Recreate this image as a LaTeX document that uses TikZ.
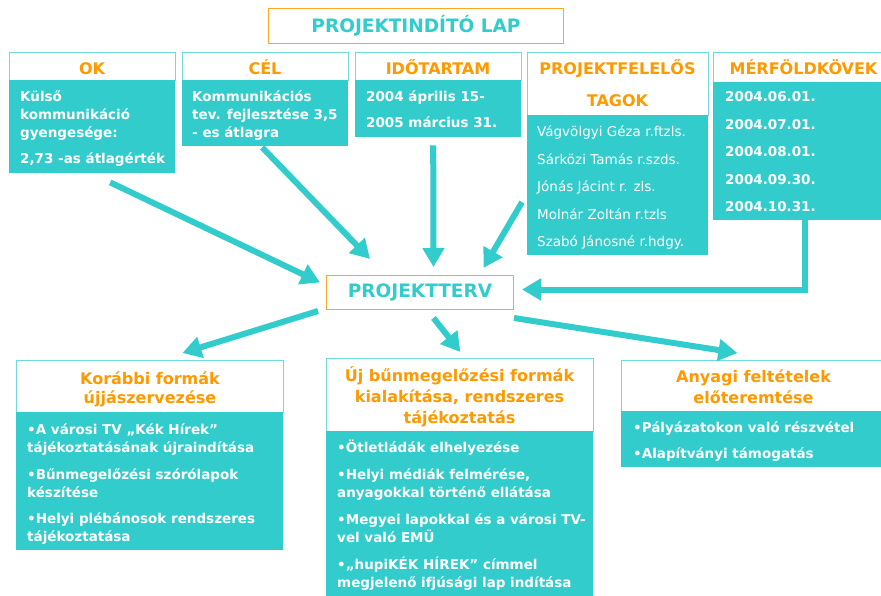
\documentclass[tikz,border=0pt]{standalone}
\usepackage{fontspec}
\setmainfont{DejaVu Sans}
\usetikzlibrary{arrows.meta,positioning}

\definecolor{kekzold}{HTML}{33CCCC}
\definecolor{narancs}{HTML}{FF9900}

% a tobbsoros csomopontok base horgonya az utolso sor alapvonala
\tikzset{
    fej/.style={draw=kekzold!70, line width=0.8pt, fill=white, inner sep=0pt, anchor=north west},
    test/.style={fill=kekzold, inner sep=0pt, anchor=north west},
    fejszoveg/.style={text=narancs, font=\bfseries\fontsize{16}{19}\selectfont, align=center, anchor=base, inner sep=0pt},
    torzs/.style={text=white, font=\bfseries\fontsize{13.5}{18}\selectfont, align=left, anchor=base west, inner sep=0pt},
    nevsor/.style={text=white, font=\fontsize{13.5}{27.5}\selectfont, align=left, anchor=base west, inner sep=0pt},
    keret/.style={draw=narancs!85, line width=1pt, fill=white, inner sep=0pt, text=kekzold, font=\bfseries\fontsize{18.5}{22}\selectfont},
    nyil/.style={draw=kekzold, line width=6pt, -{Triangle[width=21pt,length=19pt]}},
}

\begin{document}
\begin{tikzpicture}[x=1pt,y=-1pt]
    \useasboundingbox (0,0) rectangle (881,596);
    % cim
    \node[keret, minimum width=295, minimum height=35, anchor=north west] (cim) at (268,8) {PROJEKTINDÍTÓ LAP};
    % felso dobozok
    \node[fej, minimum width=166, minimum height=28] (okF) at (9,52) {};
    \node[test, minimum width=166, minimum height=93] (okT) at (9,80) {};
    \node[fejszoveg] (okC) at (92,75) {OK};
    \node[torzs] (okS) at (20,164) {Külső\\kommunikáció\\gyengesége:\\[8pt]2,73 -as átlagérték};

    \node[fej, minimum width=166, minimum height=28] (celF) at (182,52) {};
    \node[test, minimum width=166, minimum height=66] (celT) at (182,80) {};
    \node[fejszoveg] (celC) at (265,75) {CÉL};
    \node[torzs] (celS) at (192,138) {Kommunikációs\\tev. fejlesztése 3,5\\- es átlagra};

    \node[fej, minimum width=166, minimum height=28] (idoF) at (355,52) {};
    \node[test, minimum width=166, minimum height=57] (idoT) at (355,80) {};
    \node[fejszoveg] (idoC) at (438,75) {IDŐTARTAM};
    \node[torzs] (idoS) at (366,128) {2004 április 15-\\[8pt]2005 március 31.};

    \node[fej, minimum width=181, minimum height=63] (tagF) at (527,52) {};
    \node[test, minimum width=181, minimum height=140] (tagT) at (527,115) {};
    \node[fejszoveg, font=\bfseries\fontsize{16}{32}\selectfont] (tagC) at (617.5,107) {PROJEKTFELELŐS\\TAGOK};
    \node[nevsor] (tagS) at (537,247) {Vágvölgyi Géza r.ftzls.\\Sárközi Tamás r.szds.\\Jónás Jácint r. zls.\\Molnár Zoltán r.tzls\\Szabó Jánosné r.hdgy.};

    \node[fej, minimum width=181, minimum height=30] (merfF) at (713,52) {};
    \node[test, minimum width=181, minimum height=138] (merfT) at (713,82) {};
    \node[fejszoveg] (merfC) at (803.5,75) {MÉRFÖLDKÖVEK};
    \node[torzs, font=\bfseries\fontsize{13.5}{27.5}\selectfont] (merfS) at (725,212) {2004.06.01.\\2004.07.01.\\2004.08.01.\\2004.09.30.\\2004.10.31.};

    % projektterv
    \node[keret, minimum width=187, minimum height=34, anchor=north west] (terv) at (326,274.5) {PROJEKTTERV};

    % also dobozok
    \node[fej, minimum width=267, minimum height=52] (elsoF) at (16,360) {};
    \node[test, minimum width=267, minimum height=138] (elsoT) at (16,412) {};
    \node[fejszoveg] (elsoC) at (150,403) {Korábbi formák\\újjászervezése};
    \node[torzs] (elsoS) at (27,541) {•A városi TV „Kék Hírek”\\tájékoztatásának újraindítása\\[9pt]•Bűnmegelőzési szórólapok\\készítése\\[8pt]•Helyi plébánosok rendszeres\\tájékoztatása};

    \node[fej, minimum width=267, minimum height=73] (masF) at (326,358) {};
    \node[test, minimum width=267, minimum height=170] (masT) at (326,431) {};
    \node[fejszoveg, font=\bfseries\fontsize{16}{21}\selectfont] (masC) at (459.5,423) {Új bűnmegelőzési formák\\kialakítása, rendszeres\\tájékoztatás};
    \node[torzs] (masS) at (337,587) {•Ötletládák elhelyezése\\[9pt]•Helyi médiák felmérése,\\anyagokkal történő ellátása\\[9pt]•Megyei lapokkal és a városi TV-\\vel való EMÜ\\[9pt]•„hupiKÉK HÍREK” címmel\\megjelenő ifjúsági lap indítása};

    \node[fej, minimum width=265, minimum height=51] (harF) at (621,360) {};
    \node[test, minimum width=265, minimum height=56] (harT) at (621,411) {};
    \node[fejszoveg, font=\bfseries\fontsize{16}{21}\selectfont] (harC) at (753.5,403) {Anyagi feltételek\\előteremtése};
    \node[torzs, font=\bfseries\fontsize{13.5}{26}\selectfont] (harS) at (633,458) {•Pályázatokon való részvétel\\•Alapítványi támogatás};

    % nyilak
    \draw[nyil] ([shift={(18,9)}]okT.south) -- ([shift={(-6,-9.5)}]terv.west);
    \draw[nyil] ([shift={(-3,1)}]celT.south) -- ([shift={(44,-15.5)}]terv.north west);
    \draw[nyil] ([shift={(-5,8)}]idoT.south) -- ([shift={(13.5,-7.5)}]terv.north);
    \draw[nyil] ([shift={(-5,17)}]tagT.west) -- ([shift={(63.5,-6.5)}]terv.north);
    \draw[nyil] ([xshift=1.5pt]merfT.south) |- ([shift={(8,-2.5)}]terv.east);
    \draw[nyil] ([shift={(-8,1.5)}]terv.south west) -- ([shift={(32.5,-7)}]elsoF.north);
    \draw[nyil] ([shift={(13.5,8.5)}]terv.south) -- ([shift={(0.5,-6)}]masF.north);
    \draw[nyil] ([shift={(0,8.5)}]terv.south east) -- ([shift={(-16.5,-7)}]harF.north);
\end{tikzpicture}
\end{document}
